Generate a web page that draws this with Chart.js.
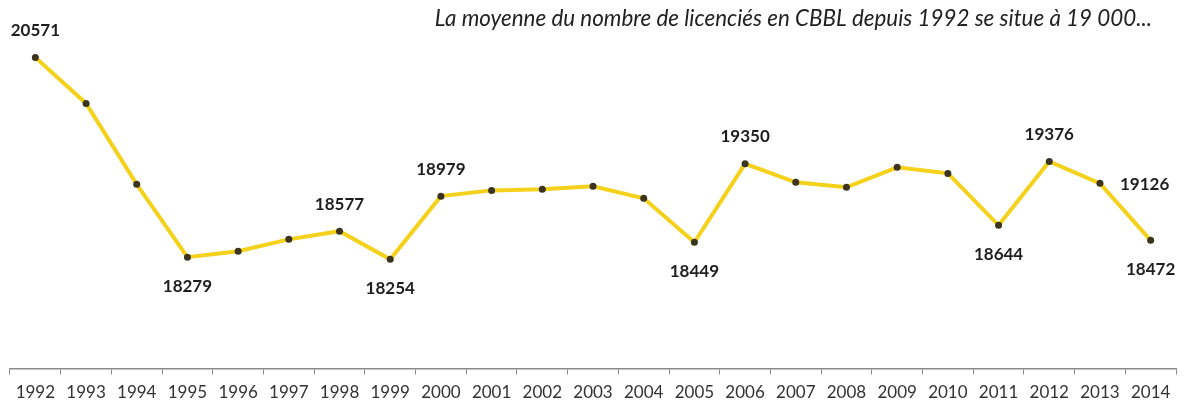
<!DOCTYPE html>
<html>
<head>
<meta charset="utf-8">
<script src="https://cdn.jsdelivr.net/npm/chart.js@4/dist/chart.umd.min.js"></script>
<style>
  html, body { margin: 0; padding: 0; background: #fff; }
  canvas { display: block; }
</style>
</head>
<body>
<canvas id="chart" width="1188" height="407"></canvas>
<script>
// DATA
const years = ['1992','1993','1994','1995','1996','1997','1998','1999','2000','2001','2002',
               '2003','2004','2005','2006','2007','2008','2009','2010','2011','2012','2013','2014'];
const licencies = [20571, 20043, 19114, 18279, 18346, 18483, 18577, 18254, 18979, 19045, 19057,
                   19091, 18954, 18449, 19350, 19137, 19080, 19309, 19240, 18644, 19376, 19126, 18472];
// which points carry a value label, and where it sits
const labelled = { 0:'above', 3:'below', 6:'above', 7:'below', 8:'above', 13:'below',
                   14:'above', 19:'below', 20:'above', 21:'right', 22:'below' };
const titleText = 'La moyenne du nombre de licenciés en CBBL depuis 1992 se situe à 19 000...';

// value labels + the italic note at the top
const labelsPlugin = {
  id: 'valueLabels',
  afterDatasetsDraw(chart) {
    const ctx = chart.ctx;
    const meta = chart.getDatasetMeta(0);
    ctx.save();
    ctx.font = 'bold 17px Lato';
    ctx.fillStyle = '#1e1e1e';
    ctx.textBaseline = 'middle';
    Object.keys(labelled).forEach(k => {
      const i = +k;
      const pt = meta.data[i];
      const txt = String(licencies[i]);
      let x = pt.x, y = pt.y;
      ctx.textAlign = 'center';
      if (labelled[k] === 'above') y -= 27;
      else if (labelled[k] === 'below') y += 29;
      else { ctx.textAlign = 'left'; x += 20; y += 1; }
      ctx.fillText(txt, x, y);
    });
    ctx.font = 'italic 22.4px Lato';
    ctx.fillStyle = '#222';
    ctx.textAlign = 'right';
    ctx.fillText(titleText, 1152, 19);
    ctx.restore();
  }
};

const ctx = document.getElementById('chart').getContext('2d');
new Chart(ctx, {
  type: 'line',
  data: {
    labels: years,
    datasets: [{
      data: licencies,
      borderColor: '#f4d21c',
      borderWidth: 4,
      tension: 0,
      pointRadius: 3.5,
      pointBackgroundColor: '#3b3520',
      pointBorderColor: '#3b3520',
      pointBorderWidth: 0
    }]
  },
  options: {
    responsive: false,
    animation: false,
    layout: { padding: { top: 20, left: 10, right: 12, bottom: -4 } },
    plugins: { legend: { display: false }, tooltip: { enabled: false } },
    scales: {
      x: {
        offset: true,
        grid: { drawOnChartArea: false, drawTicks: true, tickLength: 6, color: '#8a8a8a', offset: true },
        border: { display: true, color: '#8a8a8a', width: 1.5 },
        ticks: { color: '#333', font: { family: 'Lato', size: 17 }, padding: 8, maxRotation: 0, autoSkip: false }
      },
      y: {
        display: false,
        min: 17000,
        max: 21000
      }
    }
  },
  plugins: [labelsPlugin]
});
</script>
</body>
</html>
